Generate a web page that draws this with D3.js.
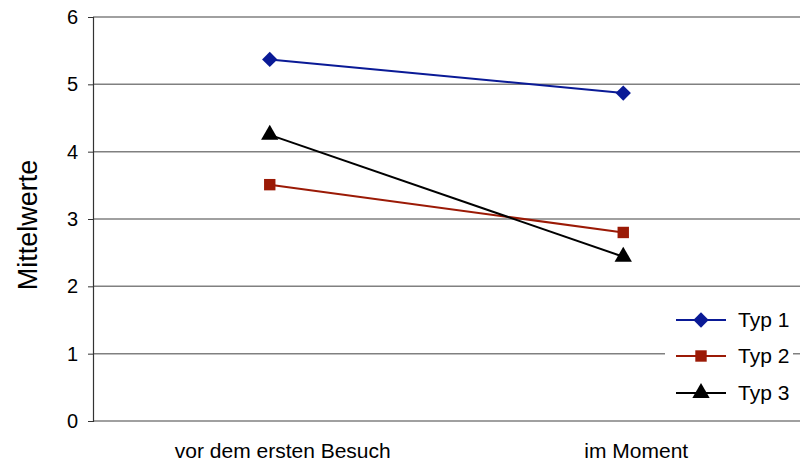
<!DOCTYPE html>
<html>
<head>
<meta charset="utf-8">
<script src="https://cdn.jsdelivr.net/npm/d3@7"></script>
<style>
  html, body { margin: 0; padding: 0; background: #fff; }
  svg { display: block; font-family: "Liberation Sans", Arial, sans-serif; }
</style>
</head>
<body>
<svg id="chart" width="809" height="463"></svg>
<script>
// Mean ratings per visitor type, before the first visit vs. now
const categories = ["vor dem ersten Besuch", "im Moment"];
const seriesNames = ["Typ 1", "Typ 2", "Typ 3"];
const typ1 = [5.37, 4.87];
const typ2 = [3.51, 2.80];
const typ3 = [4.25, 2.44];
const yTicks = [0, 1, 2, 3, 4, 5, 6];
const yTitle = "Mittelwerte";

const series = [
  { name: seriesNames[0], values: typ1, color: "#0a1a96", symbol: d3.symbolDiamond2, size: 150 },
  { name: seriesNames[1], values: typ2, color: "#9b1a06", symbol: d3.symbolSquare, size: 130 },
  { name: seriesNames[2], values: typ3, color: "#000000", symbol: d3.symbolTriangle, size: 130 }
];

const svg = d3.select("#chart");
const margin = { left: 93, right: 9, top: 17, bottom: 42 };
const W = 809, H = 463;

const x = d3.scalePoint().domain(categories).range([margin.left, W - margin.right]).padding(0.5);
const y = d3.scaleLinear().domain([0, 6]).range([H - margin.bottom, margin.top]);

// horizontal gridlines
svg.append("g")
  .selectAll("line")
  .data(yTicks.filter(d => d > 0))
  .join("line")
  .attr("x1", margin.left).attr("x2", W - margin.right)
  .attr("y1", d => y(d)).attr("y2", d => y(d))
  .attr("stroke", "#808080").attr("stroke-width", 1.5);

// baseline
svg.append("line")
  .attr("x1", margin.left).attr("x2", W - margin.right)
  .attr("y1", y(0)).attr("y2", y(0))
  .attr("stroke", "#808080").attr("stroke-width", 1.5);

// y axis
const yAxis = svg.append("g")
  .attr("transform", `translate(${margin.left},0)`)
  .call(d3.axisLeft(y).tickValues(yTicks).tickSize(5).tickPadding(10).tickFormat(d3.format("d")));
yAxis.select(".domain").attr("stroke", "#333").attr("stroke-width", 1.2);
yAxis.selectAll(".tick line").attr("stroke", "#333");
yAxis.selectAll("text").attr("font-size", 20).attr("fill", "#000")
  .attr("font-family", "'Liberation Sans', Arial, sans-serif");

// category labels (set slightly right of the category position)
svg.append("g")
  .selectAll("text")
  .data(categories)
  .join("text")
  .attr("x", d => x(d) + 13).attr("y", 458)
  .attr("text-anchor", "middle")
  .attr("font-size", 21)
  .text(d => d);

// y title
svg.append("text")
  .attr("transform", `translate(37,225) rotate(-90)`)
  .attr("text-anchor", "middle")
  .attr("font-size", 27)
  .text(yTitle);

// series lines and markers
const line = d3.line().x((d, i) => x(categories[i])).y(d => y(d));
series.forEach(s => {
  svg.append("path")
    .attr("d", line(s.values))
    .attr("fill", "none").attr("stroke", s.color).attr("stroke-width", 2);
  svg.append("g").selectAll("path")
    .data(s.values)
    .join("path")
    .attr("transform", (d, i) => `translate(${x(categories[i])},${y(d)})`)
    .attr("d", d3.symbol(s.symbol, s.size))
    .attr("fill", s.color);
});

// legend
const legend = svg.append("g");
legend.append("rect")
  .attr("x", 665).attr("y", 300).attr("width", 128).attr("height", 112)
  .attr("fill", "#fff");
const rowY = [320, 356, 393];
series.forEach((s, i) => {
  const g = legend.append("g").attr("transform", `translate(0,${rowY[i]})`);
  g.append("line").attr("x1", 676).attr("x2", 726).attr("y1", 0).attr("y2", 0)
    .attr("stroke", s.color).attr("stroke-width", 2);
  g.append("path").attr("transform", "translate(701,0)")
    .attr("d", d3.symbol(s.symbol, s.size)).attr("fill", s.color);
  g.append("text").attr("x", 738).attr("y", 0).attr("dy", "0.35em")
    .attr("font-size", 21).text(s.name);
});
</script>
</body>
</html>
